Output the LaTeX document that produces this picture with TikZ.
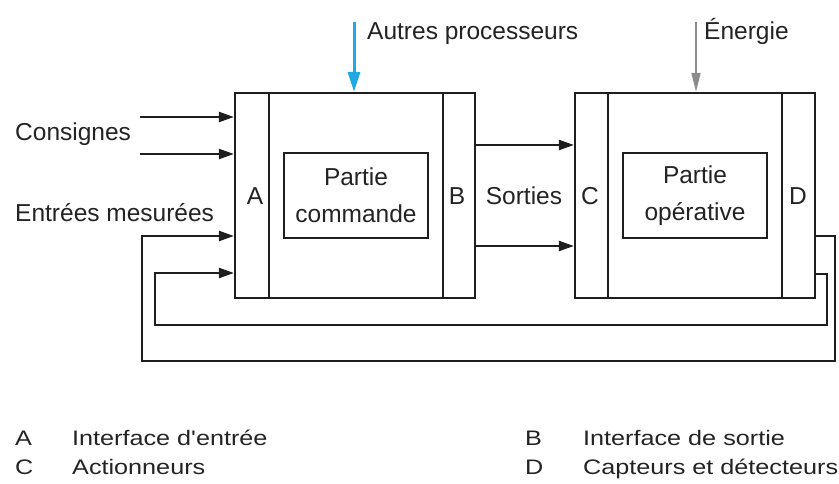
\documentclass[tikz,border=0pt]{standalone}
\usepackage{fontspec}
\setmainfont{Liberation Sans}
\newfontfamily\legendfont[FakeStretch=1.2]{Liberation Sans}
\usetikzlibrary{arrows.meta}
\definecolor{skyarrow}{RGB}{30,168,230}
\definecolor{inkline}{RGB}{30,30,30}
\definecolor{inktext}{RGB}{35,35,35}
\begin{document}
\begin{tikzpicture}[x=1pt,y=-1pt,
  ln/.style={line width=2.2pt, draw=inkline},
  arr/.style={ln, -{Triangle[length=15pt,width=10pt]}},
  lbl/.style={font=\fontsize{24.5}{37}\selectfont, text=inktext, inner sep=0pt},
  leg/.style={font=\legendfont\fontsize{21}{26}\selectfont, text=inktext, inner sep=0pt, anchor=base west},
  bigbox/.style={ln, rectangle, inner sep=0pt, minimum width=240pt, minimum height=205pt},
  inbox/.style={ln, rectangle, inner sep=0pt, minimum width=144pt, minimum height=85pt, align=center, lbl}]
\useasboundingbox (0,0) rectangle (839,484);

% main boxes
\node[bigbox] (PC) at (355,195.5) {};
\node[bigbox] (PO) at (695,195.5) {};
\draw[ln] ([xshift=35pt]PC.north west) -- ([xshift=35pt]PC.south west);
\draw[ln] ([xshift=-33pt]PC.north east) -- ([xshift=-33pt]PC.south east);
\draw[ln] ([xshift=34pt]PO.north west) -- ([xshift=34pt]PO.south west);
\draw[ln] ([xshift=-34pt]PO.north east) -- ([xshift=-34pt]PO.south east);

\node[inbox] (PCi) at (356,195.5) {Partie\\commande};
\node[inbox] (POi) at (695,195.5) {Partie\\opérative};

% interface labels
\node[lbl] (lA) at (255,196) {A};
\node[lbl] (lB) at (457,196) {B};
\node[lbl] (lS) at (524,196) {Sorties};
\node[lbl] (lC) at (590,196) {C};
\node[lbl] (lD) at (798,196) {D};

% external texts
\node[lbl, anchor=base west] (tCons) at (15,141) {Consignes};
\node[lbl, anchor=base west] (tEnt) at (15,222) {Entrées mesurées};
\node[lbl, anchor=base west] (tAut) at (367,40) {Autres processeurs};
\node[lbl, anchor=base west] (tEne) at (704,40) {Énergie};

% inputs
\coordinate (c1) at (140,117);
\coordinate (c2) at (140,154);
\draw[arr] (c1) -- (c1 -| PC.west);
\draw[arr] (c2) -- (c2 -| PC.west);

% top arrows
\coordinate (b0) at (354,22);
\coordinate (g0) at (696,22);
\draw[line width=3pt, draw=skyarrow, -{Triangle[length=20pt,width=12pt]}] (b0) -- (b0 |- PC.north);
\draw[line width=1.6pt, draw=black!45, -{Triangle[length=19pt,width=9pt]}] (g0) -- (g0 |- PO.north);

% outputs
\coordinate (s1) at (475,145);
\coordinate (s2) at (475,246);
\draw[arr] (s1 -| PC.east) -- (s1 -| PO.west);
\draw[arr] (s2 -| PC.east) -- (s2 -| PO.west);

% feedback loops
\coordinate (o1) at (835,236);
\coordinate (o2) at (835,361);
\coordinate (o3) at (142,361);
\coordinate (o4) at (142,236);
\draw[arr] (o1 -| PO.east) -- (o1) -- (o2) -- (o3) -- (o4) -- (o4 -| PC.west);
\coordinate (i1) at (827,274);
\coordinate (i2) at (827,325);
\coordinate (i3) at (155,325);
\coordinate (i4) at (155,273);
\draw[arr] (i1 -| PO.east) -- (i1) -- (i2) -- (i3) -- (i4) -- (i4 -| PC.west);

% legend
\node[leg] (kA) at (15,445) {A};
\node[leg] (vA) at (72,445) {Interface d'entrée};
\node[leg] (kC) at (15,474) {C};
\node[leg] (vC) at (72,474) {Actionneurs};
\node[leg] (kB) at (525,445) {B};
\node[leg] (vB) at (583,445) {Interface de sortie};
\node[leg] (kD) at (525,474) {D};
\node[leg] (vD) at (583,474) {Capteurs et détecteurs};
\end{tikzpicture}
\end{document}
